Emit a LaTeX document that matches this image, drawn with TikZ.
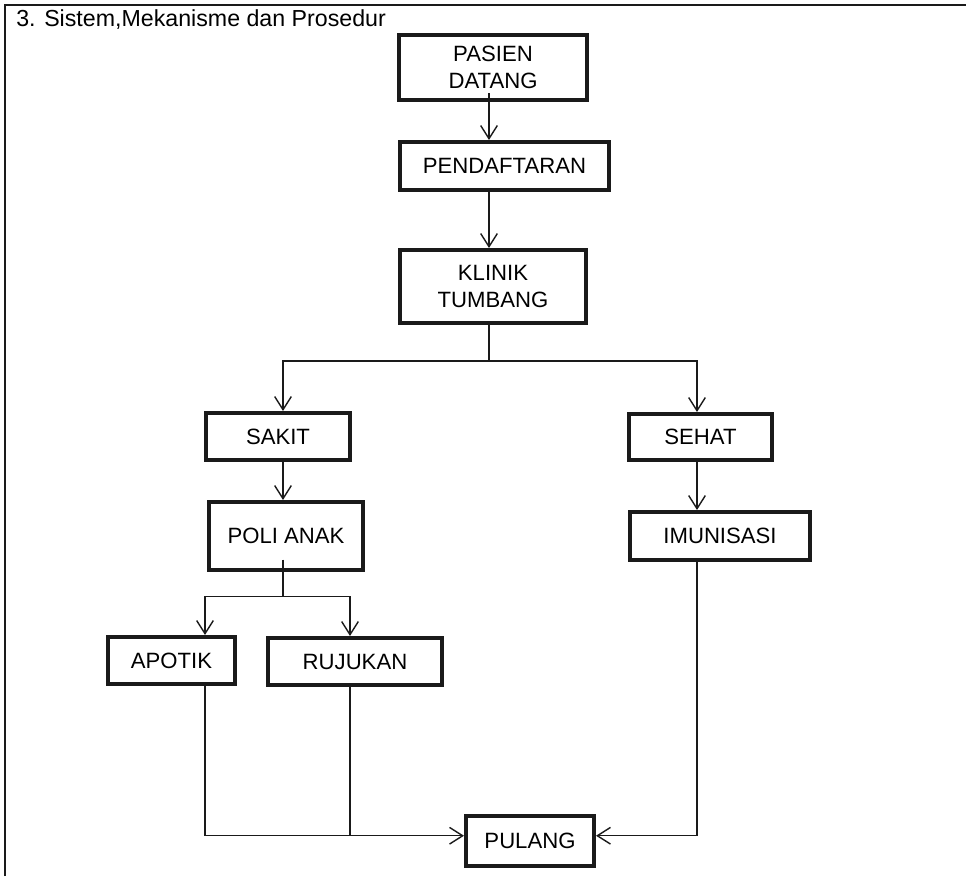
\documentclass[tikz,border=0pt]{standalone}
\usepackage{fontspec}
\setmainfont{Liberation Sans}
\usetikzlibrary{arrows.meta}
\definecolor{ink}{HTML}{1A1A1A}

\begin{document}
\begin{tikzpicture}[x=0.02cm,y=-0.02cm,
  box/.style={draw=ink,line width=2.3pt,inner sep=0pt,align=center,font=\fontsize{12.6}{15}\selectfont},
  link/.style={draw=ink,line width=0.8pt},
  flow/.style={link,-{Straight Barb[length=7.5pt,width=9.5pt]}}]
\useasboundingbox (0,0) rectangle (966,876);
\draw[ink,line width=1.1pt] (5,876) -- (5,5) -- (966,5);
\node[anchor=west,inner sep=0pt,font=\fontsize{13.2}{14}\selectfont] (title) at (16,20) {3. Sistem,Mekanisme dan Prosedur};

% columns of the connectors
\coordinate (cM) at (489,0); \coordinate (cS) at (283,0); \coordinate (cH) at (697,0);
\coordinate (cA) at (205,0); \coordinate (cR) at (350,0);

\node[box,minimum width=3.76cm,minimum height=1.3cm] (pasien) at (493,67.5) {PASIEN\\DATANG};
\node[box,minimum width=4.18cm,minimum height=0.96cm] (daftar) at (504.5,166) {PENDAFTARAN};
\node[box,minimum width=3.72cm,minimum height=1.46cm] (klinik) at (493,286.5) {KLINIK\\TUMBANG};
\node[box,minimum width=2.88cm,minimum height=0.94cm] (sakit) at (278,436.5) {SAKIT};
\node[box,minimum width=2.86cm,minimum height=0.92cm] (sehat) at (700.5,437) {SEHAT};
\node[box,minimum width=3.08cm,minimum height=1.36cm] (poli) at (286,536) {POLI ANAK};
\node[box,minimum width=3.6cm,minimum height=0.96cm] (imunisasi) at (720,536) {IMUNISASI};
\node[box,minimum width=2.54cm,minimum height=0.94cm] (apotik) at (171.5,660.5) {APOTIK};
\node[box,minimum width=3.48cm,minimum height=0.94cm] (rujukan) at (355,661.5) {RUJUKAN};
\node[box,minimum width=2.56cm,minimum height=1.0cm] (pulang) at (530,841) {PULANG};
\coordinate (pin) at ([yshift=3pt]pulang.west); \coordinate (pout) at ([yshift=3pt]pulang.east);

\draw[flow] ([yshift=5pt]cM |- pasien.south) -- (cM |- daftar.north);
\draw[flow] (cM |- daftar.south) -- (cM |- klinik.north);
\draw[link] (cM |- klinik.south) -- ++(0,36) coordinate (fork1);
\draw[flow] (fork1) -| (cS |- sakit.north); \draw[flow] (fork1) -| (cH |- sehat.north);
\draw[flow] (cS |- sakit.south) -- (cS |- poli.north);
\draw[flow] (cH |- sehat.south) -- (cH |- imunisasi.north);
\draw[link] ([yshift=7pt]cS |- poli.south) -- ++(0,37) coordinate (fork2);
\draw[flow] (fork2) -| (cA |- apotik.north); \draw[flow] (fork2) -| (cR |- rujukan.north);
\draw[flow] (cA |- apotik.south) |- (pin);
\draw[link] (cR |- rujukan.south) -- (cR |- pin);
\draw[flow] (cH |- imunisasi.south) |- (pout);
\end{tikzpicture}
\end{document}
